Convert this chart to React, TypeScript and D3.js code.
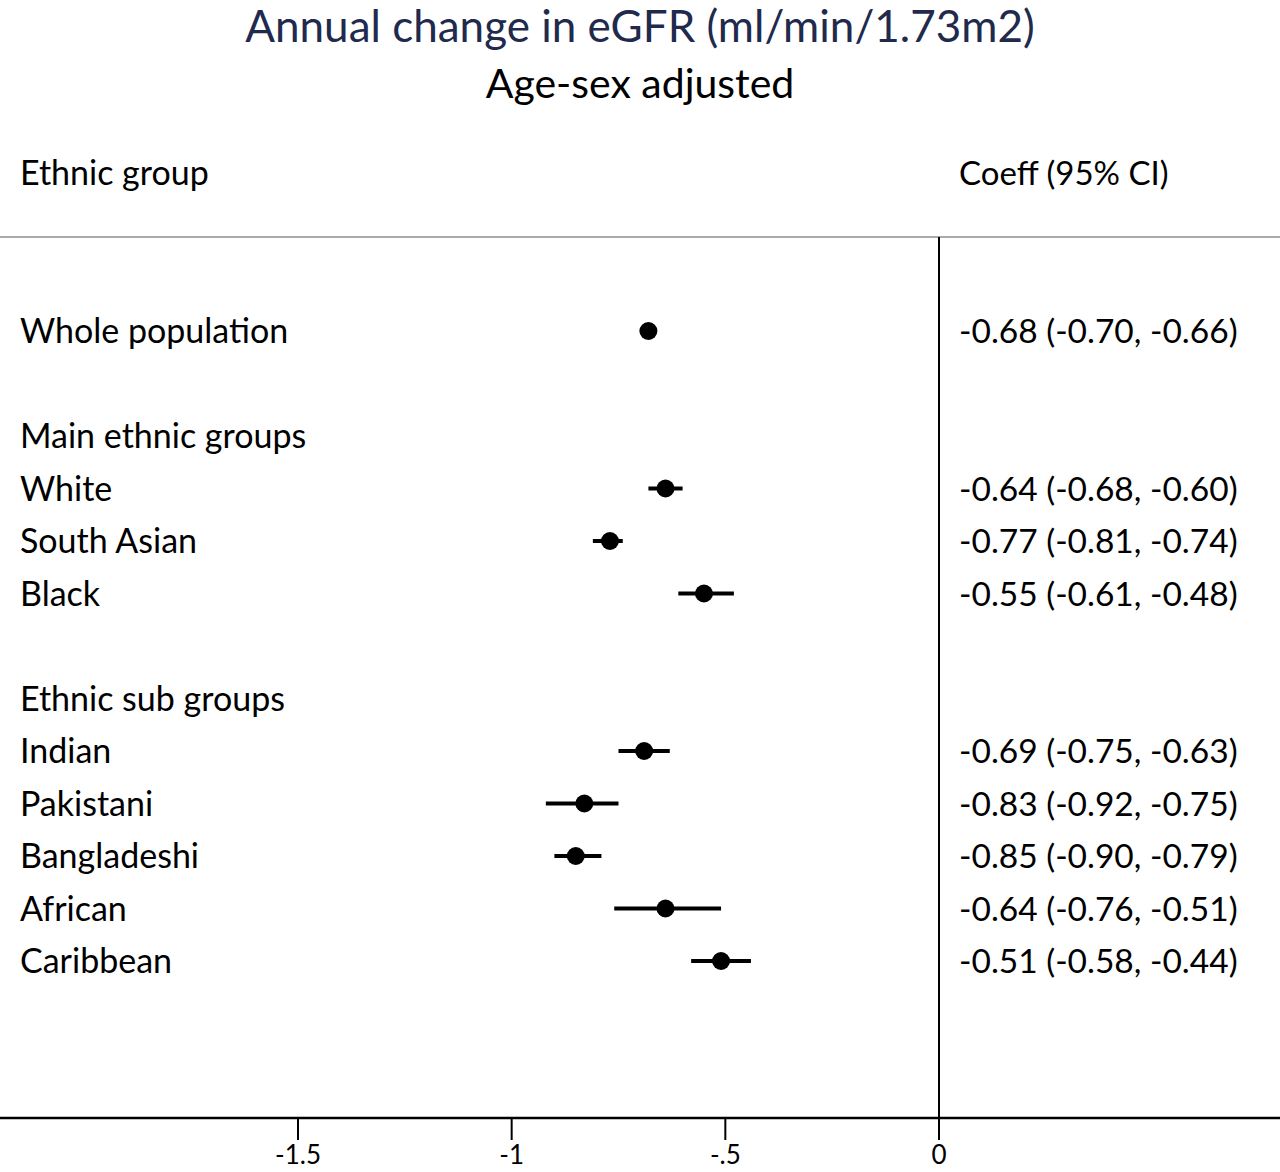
import * as d3 from "d3";
import { useEffect, useRef } from "react";

const labels = [
  "Whole population",
  "",
  "Main ethnic groups",
  "White",
  "South Asian",
  "Black",
  "",
  "Ethnic sub groups",
  "Indian",
  "Pakistani",
  "Bangladeshi",
  "African",
  "Caribbean",
];
// null rows are headings / spacers
const coef = [-0.68, null, null, -0.64, -0.77, -0.55, null, null, -0.69, -0.83, -0.85, -0.64, -0.51];
const lower = [-0.7, null, null, -0.68, -0.81, -0.61, null, null, -0.75, -0.92, -0.9, -0.76, -0.58];
const upper = [-0.66, null, null, -0.6, -0.74, -0.48, null, null, -0.63, -0.75, -0.79, -0.51, -0.44];
const ticks = [-1.5, -1, -0.5, 0];
const tickLabels = ["-1.5", "-1", "-.5", "0"];

const W = 1280;
const H = 1172;
const font = "Lato, 'Open Sans', sans-serif";

const fmt = (v: number) => v.toFixed(2);

export const App = () => {
  const ref = useRef<SVGSVGElement>(null);

  useEffect(() => {
    const svg = d3.select(ref.current);
    svg.selectAll("*").remove();

    const x = d3.scaleLinear().domain([-1.5, 0]).range([298, 939]);
    const y = d3.scaleLinear().domain([0, 12]).range([331, 961]);

    svg.append("rect").attr("width", W).attr("height", H).attr("fill", "#fff");

    // titles
    svg
      .append("text")
      .attr("x", 640)
      .attr("y", 42)
      .attr("text-anchor", "middle")
      .attr("font-size", 44)
      .attr("fill", "#1f2a4d")
      .attr("font-family", font)
      .text("Annual change in eGFR (ml/min/1.73m2)");
    svg
      .append("text")
      .attr("x", 640)
      .attr("y", 98)
      .attr("text-anchor", "middle")
      .attr("font-size", 41)
      .attr("fill", "#000")
      .attr("font-family", font)
      .text("Age-sex adjusted");

    // column heads
    svg
      .append("text")
      .attr("x", 20)
      .attr("y", 185)
      .attr("font-size", 34)
      .attr("font-family", font)
      .text("Ethnic group");
    svg
      .append("text")
      .attr("x", 959)
      .attr("y", 185)
      .attr("font-size", 33)
      .attr("font-family", font)
      .text("Coeff (95% CI)");

    // header rule
    svg
      .append("line")
      .attr("x1", 0)
      .attr("x2", W)
      .attr("y1", 237)
      .attr("y2", 237)
      .attr("stroke", "#aaa")
      .attr("stroke-width", 2);

    // zero line
    svg
      .append("line")
      .attr("x1", x(0))
      .attr("x2", x(0))
      .attr("y1", 237)
      .attr("y2", 1118)
      .attr("stroke", "#000")
      .attr("stroke-width", 2);

    // axis
    svg
      .append("line")
      .attr("x1", 0)
      .attr("x2", W)
      .attr("y1", 1118)
      .attr("y2", 1118)
      .attr("stroke", "#000")
      .attr("stroke-width", 2.5);
    svg
      .selectAll("line.tick")
      .data(ticks)
      .join("line")
      .attr("class", "tick")
      .attr("x1", (d) => x(d))
      .attr("x2", (d) => x(d))
      .attr("y1", 1118)
      .attr("y2", 1140)
      .attr("stroke", "#000")
      .attr("stroke-width", 2);
    svg
      .selectAll("text.tick")
      .data(ticks)
      .join("text")
      .attr("class", "tick")
      .attr("x", (d) => x(d))
      .attr("y", 1164)
      .attr("text-anchor", "middle")
      .attr("font-size", 26)
      .attr("font-family", font)
      .text((_, i) => tickLabels[i]);

    const rows = labels.map((l, i) => ({ l, i, c: coef[i], lo: lower[i], hi: upper[i] }));

    svg
      .selectAll("text.lab")
      .data(rows.filter((r) => r.l))
      .join("text")
      .attr("class", "lab")
      .attr("x", 20)
      .attr("y", (d) => y(d.i) + 12)
      .attr("font-size", 34)
      .attr("font-family", font)
      .text((d) => d.l);

    const est = rows.filter((r) => r.c !== null);

    svg
      .selectAll("line.ci")
      .data(est)
      .join("line")
      .attr("class", "ci")
      .attr("x1", (d) => x(d.lo as number))
      .attr("x2", (d) => x(d.hi as number))
      .attr("y1", (d) => y(d.i))
      .attr("y2", (d) => y(d.i))
      .attr("stroke", "#000")
      .attr("stroke-width", 4);

    svg
      .selectAll("circle.pt")
      .data(est)
      .join("circle")
      .attr("class", "pt")
      .attr("cx", (d) => x(d.c as number))
      .attr("cy", (d) => y(d.i))
      .attr("r", 9)
      .attr("fill", "#000");

    svg
      .selectAll("text.val")
      .data(est)
      .join("text")
      .attr("class", "val")
      .attr("x", 959)
      .attr("y", (d) => y(d.i) + 12)
      .attr("font-size", 33.5)
      .attr("font-family", font)
      .text((d) => `${fmt(d.c as number)} (${fmt(d.lo as number)}, ${fmt(d.hi as number)})`);
  }, []);

  return (
    <div>
      <style>{`body{margin:0}`}</style>
      <svg ref={ref} width={W} height={H} style={{ display: "block" }}></svg>
    </div>
  );
};

export default App;
